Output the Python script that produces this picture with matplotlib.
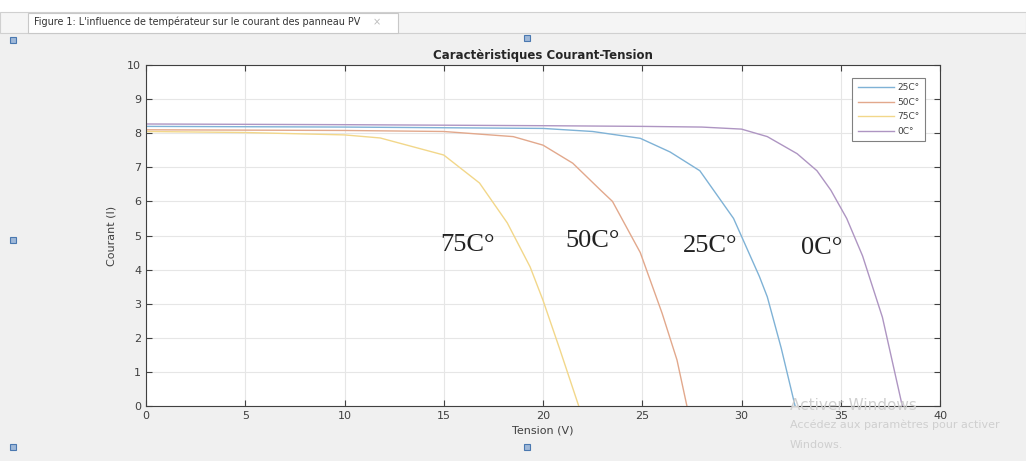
import matplotlib
matplotlib.use('Agg')
from matplotlib import pyplot as plt
from matplotlib.patches import Rectangle

# I-V curves
v_25 = [0, 10, 20, 22.5, 24.9, 26.4, 27.9, 29.6, 30.9, 31.3, 32.0, 32.7]
i_25 = [8.2, 8.18, 8.14, 8.05, 7.85, 7.45, 6.9, 5.5, 3.8, 3.2, 1.7, 0]
v_50 = [0, 10, 15, 18.5, 20, 21.5, 22.9, 23.5, 24.9, 26.0, 26.75, 27.25]
i_50 = [8.1, 8.08, 8.05, 7.9, 7.65, 7.12, 6.33, 6.0, 4.5, 2.72, 1.35, 0]
v_75 = [0, 5, 10, 11.8, 15, 16.8, 18.2, 19.35, 20, 20.86, 21.8]
i_75 = [8.05, 8.02, 7.95, 7.86, 7.36, 6.54, 5.37, 4.08, 3.1, 1.64, 0]
v_0 = [0, 10, 20, 25, 28, 30, 31.3, 32.8, 33.8, 34.5, 35.3, 36.1, 37.1, 38.1]
i_0 = [8.27, 8.25, 8.22, 8.2, 8.18, 8.12, 7.9, 7.4, 6.9, 6.33, 5.5, 4.4, 2.6, 0]

labels = ['25C°', '50C°', '75C°', '0C°']
note_text = ['75C°', '50C°', '25C°', '0C°']
note_x = [16.2, 22.5, 28.4, 34.05]
note_y = [4.72, 4.84, 4.69, 4.63]

W, H = 1026, 461
fig = plt.figure(figsize=(W / 100, H / 100), dpi=100)
fig.patch.set_facecolor('#f0f0f0')

# window tab bar
fig.patches.append(Rectangle((0, 1 - 12 / H), 1, 12 / H, transform=fig.transFigure,
                             facecolor='white', edgecolor='none'))
fig.patches.append(Rectangle((0, 1 - 33 / H), 1, 21 / H, transform=fig.transFigure,
                             facecolor='#f5f5f5', edgecolor='#d0d0d0', lw=0.8))
fig.patches.append(Rectangle((28 / W, 1 - 33 / H), 370 / W, 20 / H, transform=fig.transFigure,
                             facecolor='white', edgecolor='#c8c8c8', lw=0.8))
fig.text(34 / W, 1 - 22 / H, "Figure 1: L'influence de températeur sur le courant des panneau PV",
         fontsize=6.9, color='#333333', va='center', ha='left')
fig.text(377 / W, 1 - 22 / H, '×', fontsize=7, color='#bbbbbb', va='center', ha='center')

# selection handles
for hx, hy in [(13, 40), (527, 38), (13, 240), (13, 447), (527, 447)]:
    fig.patches.append(Rectangle(((hx - 3) / W, 1 - (hy + 3) / H), 6 / W, 6 / H,
                                 transform=fig.transFigure, facecolor='#9fb8d8',
                                 edgecolor='#4a78b0', lw=0.8))

ax = fig.add_axes([146 / W, 1 - 406 / H, 794 / W, 341 / H])
ax.set_facecolor('white')

ax.plot(v_25, i_25, color='#7fb2d6', lw=1.0, label=labels[0])
ax.plot(v_50, i_50, color='#e2a88c', lw=1.0, label=labels[1])
ax.plot(v_75, i_75, color='#f2d78a', lw=1.0, label=labels[2])
ax.plot(v_0, i_0, color='#ae95c2', lw=1.0, label=labels[3])

for t, x, y in zip(note_text, note_x, note_y):
    ax.text(x, y, t, fontsize=19, family='Liberation Serif', color='#222222',
            ha='center', va='center')

ax.set_xlim(0, 40)
ax.set_ylim(0, 10)
ax.set_xticks(range(0, 41, 5))
ax.set_yticks(range(0, 11))
ax.grid(True, color='#e6e6e6', lw=0.8)
ax.set_axisbelow(True)
ax.tick_params(direction='in', length=4, width=0.8, colors='#404040', labelsize=8,
               top=True, right=True)
ax.tick_params(axis='x', labeltop=False)
for s in ax.spines.values():
    s.set_color('#404040')
    s.set_linewidth(0.8)

ax.set_title('Caractèristiques Courant-Tension', fontsize=8.5, fontweight='bold',
             color='#262626', pad=4)
ax.set_xlabel('Tension (V)', fontsize=8, color='#404040', labelpad=3)
ax.set_ylabel('Courant (I)', fontsize=8, color='#404040', labelpad=8)

leg = ax.legend(loc='upper right', bbox_to_anchor=(0.987, 0.975), fontsize=6.5,
                handlelength=4, handletextpad=0.4, fancybox=False, framealpha=1,
                borderpad=0.6, labelspacing=0.6)
leg.get_frame().set_edgecolor('#808080')
leg.get_frame().set_linewidth(0.8)
for t in leg.get_texts():
    t.set_color('#404040')

# windows activation watermark
fig.text(790 / W, 1 - 405 / H, 'Activer Windows', fontsize=11, color='#cfcfcf',
         va='center', ha='left')
fig.text(790 / W, 1 - 425 / H, 'Accédez aux paramètres pour activer', fontsize=8,
         color='#cfcfcf', va='center', ha='left')
fig.text(790 / W, 1 - 445 / H, 'Windows.', fontsize=8, color='#cfcfcf',
         va='center', ha='left')

fig.savefig('out.png', dpi=100, facecolor=fig.get_facecolor())
